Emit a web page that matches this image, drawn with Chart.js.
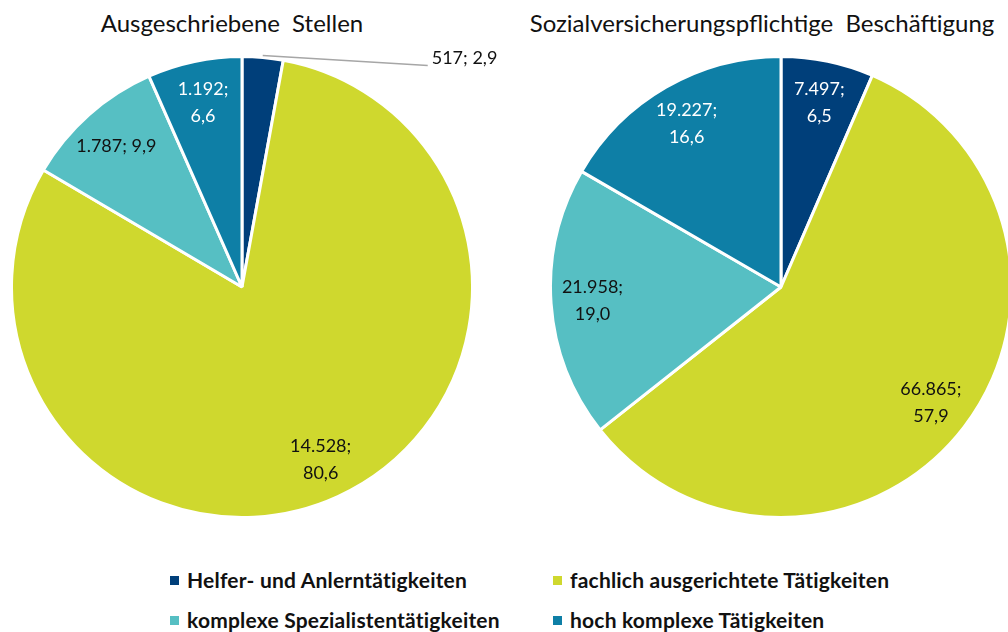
<!DOCTYPE html>
<html>
<head>
<meta charset="utf-8">
<script src="https://cdn.jsdelivr.net/npm/chart.js@4.4.1/dist/chart.umd.min.js"></script>
<style>
  html, body { margin: 0; padding: 0; background: #fff; }
  body { width: 1008px; height: 632px; overflow: hidden; position: relative; font-family: Lato, "Noto Sans", sans-serif; }
  .title { position: absolute; top: 8px; font-size: 24px; color: #111; text-align: center; white-space: nowrap; word-spacing: 6px; }
  .pie { position: absolute; }
  .legend { position: absolute; font-weight: bold; font-size: 21px; letter-spacing: 0.2px; color: #111; white-space: nowrap; line-height: 26px; }
  .legend span.box { display: inline-block; width: 9px; height: 9px; margin-right: 8px; vertical-align: 3px; }
</style>
</head>
<body>
<div class="title" style="left:32px; width:400px;">Ausgeschriebene Stellen</div>
<div class="title" style="left:462px; width:600px;">Sozialversicherungspflichtige Beschäftigung</div>
<canvas id="pieLeft" class="pie" style="left:10px; top:25px;" width="530" height="494"></canvas>
<canvas id="pieRight" class="pie" style="left:549px; top:55px;" width="464" height="464"></canvas>
<div id="legend"></div>

<script>
// Categories and colours
const categories = [
    'Helfer- und Anlerntätigkeiten',
    'fachlich ausgerichtete Tätigkeiten',
    'komplexe Spezialistentätigkeiten',
    'hoch komplexe Tätigkeiten'
];
const colors = ['#003f7a', '#cfd82e', '#56bfc3', '#0e7fa6'];
const labelColors = ['#ffffff', '#111111', '#111111', '#ffffff'];

// Ausgeschriebene Stellen
const stellenValues = [517, 14528, 1787, 1192];
const stellenPercent = ['2,9', '80,6', '9,9', '6,6'];

// Sozialversicherungspflichtige Beschäftigung
const beschValues = [7497, 66865, 21958, 19227];
const beschPercent = ['6,5', '57,9', '19,0', '16,6'];

/**
 * Format number with German thousands separator
 */
function formatNumber(v) {
    return v.toLocaleString('de-DE');
}

/**
 * Plugin drawing "value; percent" labels inside (or outside) slices
 */
const sliceLabels = {
    id: 'sliceLabels',
    afterDatasetsDraw(chart, args, opts) {
        const ctx = chart.ctx;
        const meta = chart.getDatasetMeta(0);
        const values = chart.data.datasets[0].data;
        ctx.save();
        ctx.font = '18px Lato, "Noto Sans", sans-serif';
        ctx.textBaseline = 'middle';
        meta.data.forEach((arc, i) => {
            const p = arc.getProps(['x', 'y', 'startAngle', 'endAngle', 'outerRadius']);
            const mid = (p.startAngle + p.endAngle) / 2;
            const text1 = formatNumber(values[i]) + ';';
            const text2 = opts.percent[i];
            if (opts.outside && opts.outside.includes(i)) {
                // leader line to label outside the pie
                const ex = p.x + Math.cos(mid) * p.outerRadius;
                const ey = p.y + Math.sin(mid) * p.outerRadius - 2;
                const lx = ex + 165, ly = ey + 10;
                ctx.strokeStyle = '#a6a6a6';
                ctx.lineWidth = 1.5;
                ctx.beginPath();
                ctx.moveTo(ex, ey);
                ctx.lineTo(lx, ly);
                ctx.stroke();
                ctx.fillStyle = '#111';
                ctx.textAlign = 'left';
                ctx.fillText(text1 + ' ' + text2, lx + 4, ly - 7);
                return;
            }
            const r = p.outerRadius * 0.82;
            const cx = p.x + Math.cos(mid) * r;
            const cy = p.y + Math.sin(mid) * r;
            ctx.fillStyle = labelColors[i];
            ctx.textAlign = 'center';
            if (opts.singleLine && opts.singleLine.includes(i)) {
                ctx.fillText(text1 + ' ' + text2, cx, cy);
            } else {
                ctx.fillText(text1, cx, cy - 13);
                ctx.fillText(text2, cx, cy + 14);
            }
        });
        ctx.restore();
    }
};

function makePie(id, values, percent, extra, padding) {
    return new Chart(document.getElementById(id), {
        type: 'pie',
        data: {
            labels: categories,
            datasets: [{
                data: values,
                backgroundColor: colors,
                borderColor: '#ffffff',
                borderWidth: 3
            }]
        },
        options: {
            responsive: false,
            animation: false,
            layout: { padding: padding },
            plugins: {
                legend: { display: false },
                tooltip: { enabled: false },
                sliceLabels: Object.assign({ percent: percent }, extra)
            }
        },
        plugins: [sliceLabels]
    });
}

// left canvas is larger so the outside label fits; padding keeps the pie in place
makePie('pieLeft', stellenValues, stellenPercent, { outside: [0], singleLine: [2] }, { top: 30, right: 66 });
makePie('pieRight', beschValues, beschPercent, {}, 0);

// HTML legend, two columns
const legendPos = [[170, 567], [553, 567], [170, 607], [553, 607]];
const legendEl = document.getElementById('legend');
categories.forEach((c, i) => {
    const d = document.createElement('div');
    d.className = 'legend';
    d.style.left = legendPos[i][0] + 'px';
    d.style.top = legendPos[i][1] + 'px';
    d.innerHTML = `<span class="box" style="background:${colors[i]}"></span>${c}`;
    legendEl.appendChild(d);
});
</script>
</body>
</html>
